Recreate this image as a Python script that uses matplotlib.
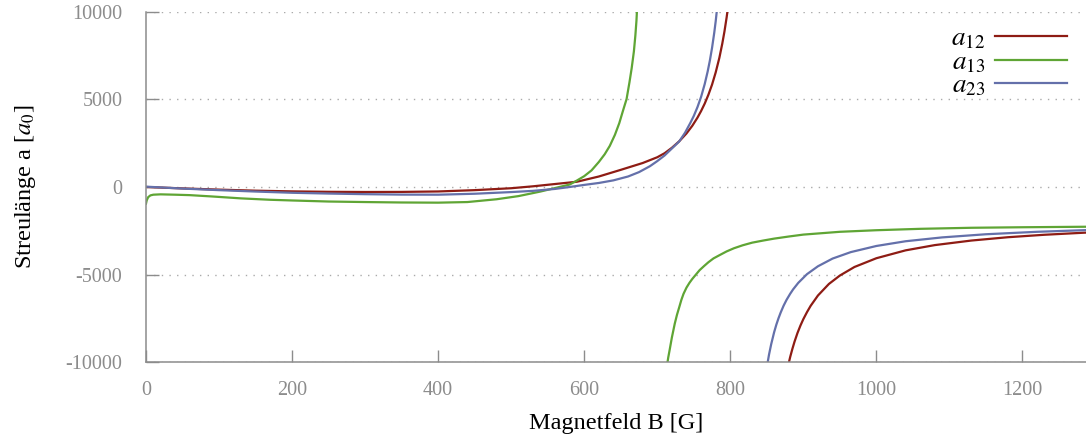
import matplotlib
matplotlib.use("Agg")
import matplotlib.pyplot as plt

plt.rcParams['font.family'] = ['Liberation Serif', 'DejaVu Serif']
plt.rcParams['mathtext.fontset'] = 'stix'
plt.rcParams['axes.unicode_minus'] = False

# Streulängen der drei niedrigsten Hyperfeinzustände
# a12
b12_lo = [0, 50, 100, 150, 200, 250, 300, 350, 400, 450, 500, 530, 560, 590, 620, 650, 680,
          700, 710, 720, 730, 740, 748, 755, 760, 765, 770, 775, 780, 785, 789, 792, 795, 797.5]
a12_lo = [0, -80, -150, -210, -250, -275, -285, -280, -255, -180, -70, 40, 170, 300, 600, 980, 1370,
          1700, 1930, 2240, 2610, 3060, 3500, 3960, 4340, 4770, 5270, 5850, 6550, 7380, 8190, 8890,
          9700, 10470]
b12_hi = [879, 882, 885, 888, 892, 896, 900, 905, 910, 920, 935, 950, 970, 1000, 1040, 1080, 1130,
          1180, 1230, 1290]
a12_hi = [-10240, -9710, -9250, -8830, -8340, -7920, -7550, -7150, -6790, -6200, -5540, -5060,
          -4570, -4070, -3620, -3320, -3060, -2870, -2730, -2600]

# a13
b13_lo = [0, 1, 3, 6, 10, 20, 40, 60, 90, 130, 170, 200, 250, 300, 350, 400, 440, 480, 510, 540,
          560, 580, 590, 600, 610, 620, 628, 635, 642, 648, 653, 658, 662, 665, 668, 670, 671.5,
          672.5]
a13_lo = [-950, -760, -580, -480, -440, -420, -440, -465, -540, -650, -730, -770, -830, -860, -885,
          -895, -860, -700, -520, -260, -60, 140, 370, 620, 950, 1430, 1870, 2350, 2980, 3650, 4350,
          5030, 6000, 6800, 7750, 8650, 9500, 10300]
b13_hi = [713, 715, 717, 720, 722, 724, 727, 730, 733, 736, 740, 744, 748, 753, 758, 764, 770, 777,
          785, 795, 805, 817, 830, 845, 860, 880, 900, 950, 1000, 1060, 1130, 1200, 1290]
a13_hi = [-10300, -9750, -9300, -8600, -8200, -7800, -7300, -6880, -6450, -6100, -5750, -5480,
          -5250, -5000, -4750, -4520, -4300, -4080, -3900, -3680, -3500, -3330, -3180, -3060, -2950,
          -2830, -2720, -2560, -2470, -2390, -2330, -2300, -2270]

# a23
b23_lo = [0, 50, 100, 150, 200, 250, 300, 350, 400, 450, 500, 530, 560, 580, 600, 620, 640, 660,
          675, 690, 700, 710, 720, 730, 738, 745, 750, 755, 760, 765, 769, 772, 775, 778, 780, 782]
a23_lo = [20, -90, -180, -260, -330, -375, -410, -435, -440, -385, -290, -220, -110, 0, 120, 230,
          380, 600, 850, 1190, 1480, 1800, 2200, 2600, 3100, 3640, 4060, 4560, 5150, 5890, 6600, 7220,
          7950, 8810, 9470, 10240]
b23_hi = [850, 853, 856, 860, 863, 866, 869, 873, 877, 882, 886, 893, 905, 920, 940, 965, 1000,
          1040, 1090, 1150, 1220, 1290]
a23_hi = [-10300, -9580, -8980, -8300, -7870, -7500, -7170, -6780, -6450, -6100, -5850, -5480,
          -4980, -4530, -4090, -3720, -3370, -3100, -2880, -2700, -2560, -2460]

c12 = '#8e1c14'
c13 = '#5fa535'
c23 = '#6470aa'
grau = '#8c8c8c'

fig = plt.figure(figsize=(10.86, 4.37), dpi=100)
ax = fig.add_axes([146/1086, 75/437, 1 - 146/1086, 350/437])

lw = 1.6
ax.plot(b12_lo, a12_lo, color=c12, lw=lw, label='$a_{12}$')
ax.plot(b13_lo, a13_lo, color=c13, lw=lw, label='$a_{13}$')
ax.plot(b23_lo, a23_lo, color=c23, lw=lw, label='$a_{23}$')
ax.plot(b12_hi, a12_hi, color=c12, lw=lw)
ax.plot(b13_hi, a13_hi, color=c13, lw=lw)
ax.plot(b23_hi, a23_hi, color=c23, lw=lw)

ax.set_xlim(0, 1287)
ax.set_ylim(-10000, 10000)
ax.set_xticks([0, 200, 400, 600, 800, 1000, 1200])
ax.set_yticks([-10000, -5000, 0, 5000, 10000])

ax.grid(axis='y', color='#aaaaaa', linestyle=(0, (1, 4.5)), linewidth=1.0)
ax.set_axisbelow(True)

for s in ['top', 'right']:
    ax.spines[s].set_visible(False)
for s in ['left', 'bottom']:
    ax.spines[s].set_color(grau)
    ax.spines[s].set_linewidth(1.1)

ax.tick_params(axis='both', direction='in', length=9, width=1.0, color=grau,
               labelcolor=grau, labelsize=14.5)
ax.tick_params(axis='x', pad=14)
ax.tick_params(axis='y', pad=17)

ax.set_xlabel('Magnetfeld B [G]', fontsize=17.5, labelpad=9)
ax.set_ylabel('Streulänge a [$a_0$]', fontsize=17.5, labelpad=20)

leg = ax.legend(loc='upper right', bbox_to_anchor=(0.991, 0.99), frameon=False,
                markerfirst=False, fontsize=19.5, handlelength=2.65, handletextpad=0.35,
                labelspacing=-0.05, borderaxespad=0)

fig.savefig('out.png', dpi=100)
